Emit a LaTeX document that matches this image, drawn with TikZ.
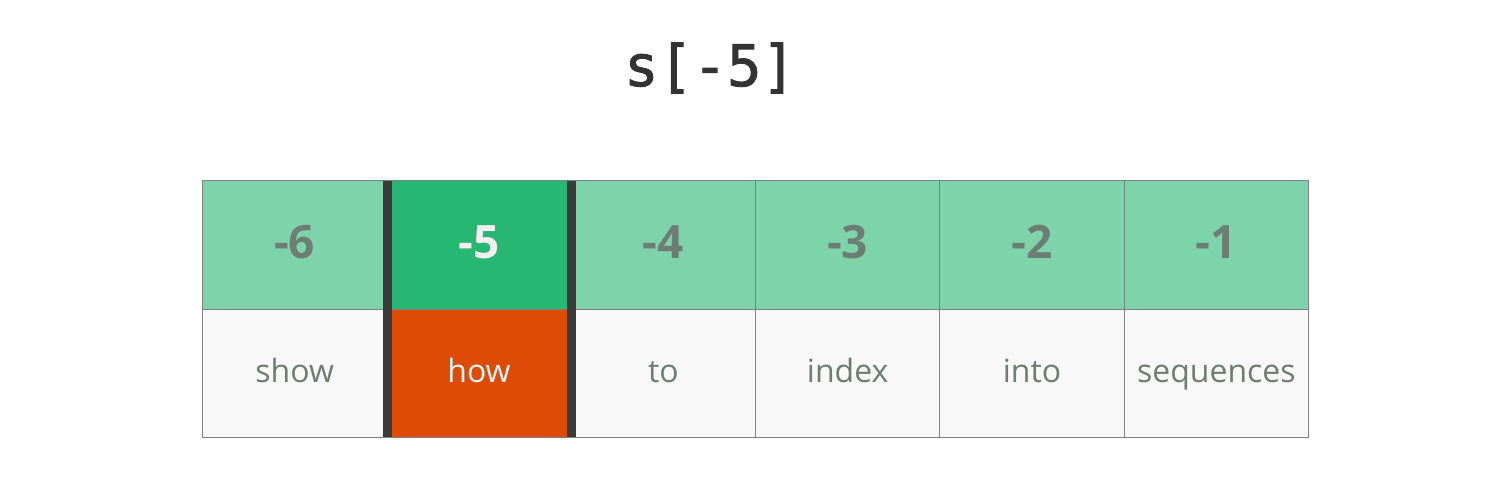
\documentclass[tikz,border=0pt]{standalone}
\usepackage{fontspec}
\setmainfont{Open Sans}
\newfontfamily\titlefont[FakeBold=1.6]{DejaVu Sans Mono}
\definecolor{lgreen}{HTML}{7DD4AA}
\definecolor{dgreen}{HTML}{26B872}
\definecolor{orng}{HTML}{DD4B05}
\definecolor{cellbg}{HTML}{F8F8F8}
\definecolor{txtgray}{HTML}{6E7D73}
\definecolor{linegray}{HTML}{808080}
\definecolor{bardark}{HTML}{3A3A3A}
\definecolor{titlecol}{HTML}{333333}
\tikzset{
  numcell/.style={draw=linegray, line width=1pt, fill=lgreen, minimum width=184.33pt, minimum height=128pt, inner sep=0pt, outer sep=0pt},
  wordcell/.style={draw=linegray, line width=1pt, fill=cellbg, minimum width=184.33pt, minimum height=128pt, inner sep=0pt, outer sep=0pt},
  numtxt/.style={anchor=base, inner sep=0pt, text=txtgray, font=\fontsize{46}{50}\selectfont\bfseries},
  wordtxt/.style={anchor=base, inner sep=0pt, text=txtgray, font=\fontsize{32}{36}\selectfont},
  bar/.style={fill=bardark, draw=none}
}
\begin{document}
\begin{tikzpicture}[x=1pt,y=-1pt]
\useasboundingbox[fill=white] (0,0) rectangle (1500,481);
\node[anchor=base, inner sep=0pt, text=titlecol, font=\titlefont\fontsize{57}{62}\selectfont] (title) at (710,86) {s[-5]};
% cells
\foreach \i in {0,...,5}{
  \pgfmathsetmacro{\cx}{294.67+184.33*\i}
  \node[numcell] (n\i) at (\cx,245) {};
  \node[wordcell] (w\i) at (\cx,373) {};
}
\node[numcell, fill=dgreen] (nh) at (n1) {};
\node[wordcell, fill=orng] (wh) at (w1) {};
\foreach \i/\n/\w in {0/-6/show,1/-5/how,2/-4/to,3/-3/index,4/-2/into,5/-1/sequences}{
  \pgfmathsetmacro{\cx}{294.67+184.33*\i}
  \node[numtxt] (nt\i) at (\cx,259) {\n};
  \node[wordtxt] (wt\i) at (\cx,382) {\w};
}
\node[numtxt, text=white!94!black] (nth) at (nt1.base) {-5};
\node[wordtxt, text=white!94!black] (wth) at (wt1.base) {how};
% thick bars
\fill[bar] (383,181) rectangle (391.5,437);
\fill[bar] (567,181) rectangle (575.5,437);
\end{tikzpicture}
\end{document}
